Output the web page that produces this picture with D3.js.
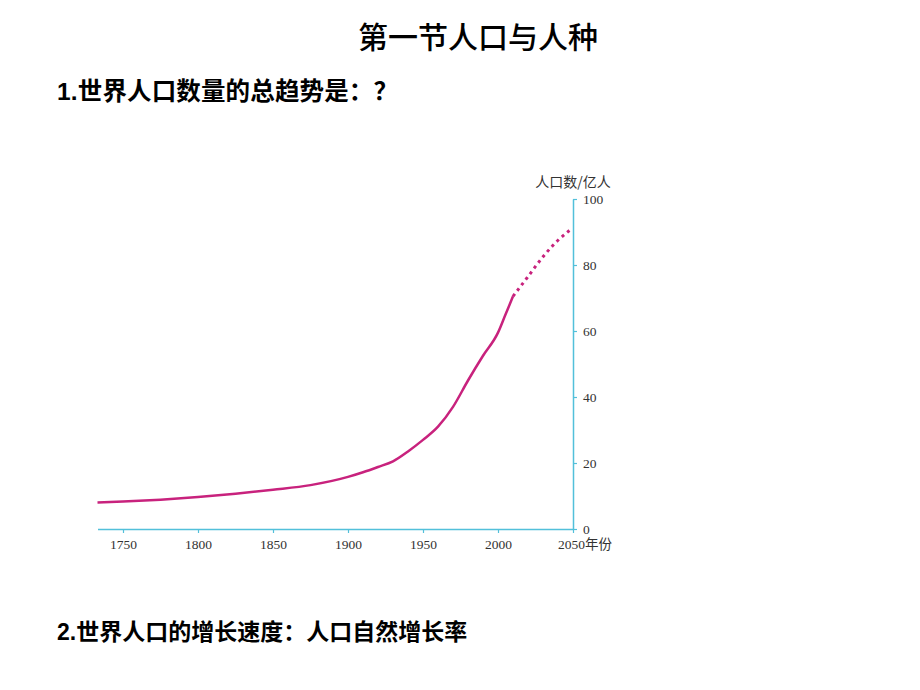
<!DOCTYPE html>
<html>
<head>
<meta charset="utf-8">
<script src="https://cdn.jsdelivr.net/npm/d3@7"></script>
<style>
  body { margin: 0; background: #fff; }
  svg { display: block; }
</style>
</head>
<body>
<div id="chart"></div>
<script>
// Population (亿人)
const pastYears  = [1733, 1750, 1775, 1800, 1825, 1850, 1875, 1900, 1910, 1920, 1930, 1940, 1950, 1960, 1970, 1980, 1990, 2000, 2005, 2010];
const pastValues = [8.0, 8.3, 8.9, 9.7, 10.7, 11.9, 13.3, 15.8, 17.2, 18.8, 20.5, 23.5, 27, 31, 37, 45, 52.5, 59.5, 65, 70.5];
const futureYears  = [2010, 2020, 2030, 2040, 2048];
const futureValues = [70.5, 76.5, 82.5, 87.5, 90.6];

const xTicks = [1750, 1800, 1850, 1900, 1950, 2000, 2050];
const yTicks = [0, 20, 40, 60, 80, 100];

const titleText = "第一节人口与人种";
const line1Text = "1.世界人口数量的总趋势是：？";
const line2Text = "2.世界人口的增长速度：人口自然增长率";
const yAxisLabel = "人口数/亿人";
const xUnit = "年份";

const width = 920, height = 690;
const axisColor = "#52c0da";
const curveColor = "#c8227d";

const svg = d3.select("#chart").append("svg")
    .attr("width", width)
    .attr("height", height);

// Headings
svg.append("text")
    .attr("x", 478).attr("y", 48)
    .attr("text-anchor", "middle")
    .style("font-family", "'Noto Sans CJK SC', sans-serif")
    .style("font-weight", 500)
    .style("font-size", "30px")
    .text(titleText);

const headStyle = (sel, size) => sel
    .style("font-family", "'Liberation Sans', 'Noto Sans CJK SC', sans-serif")
    .style("font-weight", 700)
    .style("font-size", size)
    .attr("fill", "#000");

svg.append("text").attr("x", 57).attr("y", 100)
    .attr("textLength", 341).attr("lengthAdjust", "spacing")
    .call(headStyle, "24.5px").text(line1Text);
svg.append("text").attr("x", 57).attr("y", 640).call(headStyle, "23px").text(line2Text);

// Scales
const x = d3.scaleLinear().domain([1733, 2050]).range([97.5, 573]);
const y = d3.scaleLinear().domain([0, 100]).range([529, 199]);

// X axis
const xAxis = svg.append("g")
    .attr("transform", `translate(0,${y(0)})`)
    .call(d3.axisBottom(x).tickValues(xTicks).tickSize(4).tickSizeOuter(0)
        .tickFormat(d => d === 2050 ? "" : d));

xAxis.select(".domain").attr("stroke", axisColor).attr("stroke-width", 1.5);
xAxis.selectAll(".tick line").attr("stroke", axisColor).attr("stroke-width", 1.2);
xAxis.selectAll(".tick text")
    .attr("y", 10)
    .attr("fill", "#333")
    .style("font-family", "'Liberation Serif', serif")
    .style("font-size", "13.5px");

svg.append("text")
    .attr("x", x(2050) - 15).attr("y", y(0) + 20)
    .attr("fill", "#333")
    .style("font-family", "'Liberation Serif', 'Noto Sans CJK SC', serif")
    .style("font-size", "13.5px")
    .text("2050" + xUnit);

// Y axis
const yAxis = svg.append("g")
    .attr("transform", `translate(${x(2050)},0)`)
    .call(d3.axisRight(y).tickValues(yTicks).tickSize(4).tickSizeOuter(0));

yAxis.select(".domain").attr("stroke", axisColor).attr("stroke-width", 1.5);
yAxis.selectAll(".tick line").attr("stroke", axisColor).attr("stroke-width", 1.2);
yAxis.selectAll(".tick text")
    .attr("x", 10)
    .attr("fill", "#333")
    .style("font-family", "'Liberation Serif', serif")
    .style("font-size", "13.5px");

svg.append("text")
    .attr("x", 573).attr("y", 187)
    .attr("text-anchor", "middle")
    .attr("fill", "#333")
    .style("font-family", "'Noto Sans CJK SC', sans-serif")
    .style("font-size", "14px")
    .text(yAxisLabel);

// Curve
const line = d3.line()
    .x(d => x(d[0]))
    .y(d => y(d[1]))
    .curve(d3.curveMonotoneX);

svg.append("path")
    .datum(d3.zip(pastYears, pastValues))
    .attr("d", line)
    .attr("fill", "none")
    .attr("stroke", curveColor)
    .attr("stroke-width", 2.5);

svg.append("path")
    .datum(d3.zip(futureYears, futureValues))
    .attr("d", line)
    .attr("fill", "none")
    .attr("stroke", curveColor)
    .attr("stroke-width", 3)
    .attr("stroke-dasharray", "3,4");
</script>
</body>
</html>
